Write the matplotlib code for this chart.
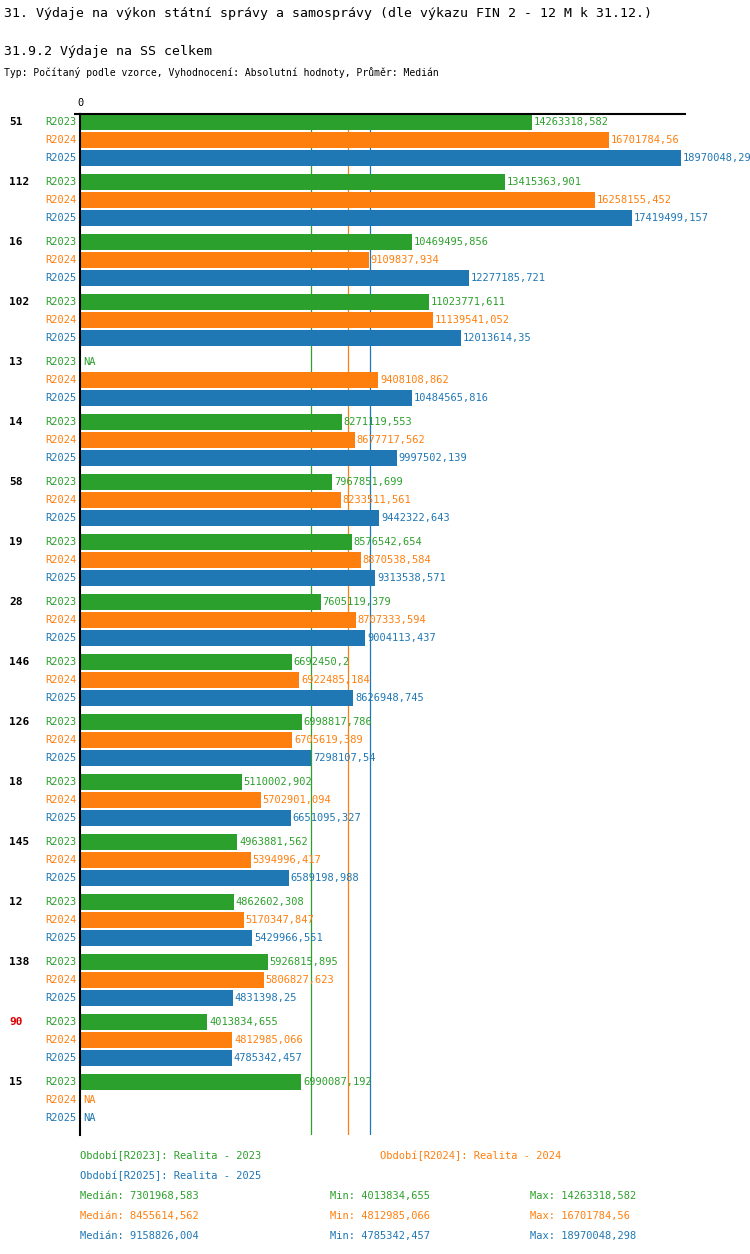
import matplotlib
matplotlib.use("Agg")
import matplotlib.pyplot as plt
import numpy as np

plt.rcParams['font.family'] = ['DejaVu Sans Mono']

# ---------------------------------------------------------------- data
groups  = ["51", "112", "16", "102", "13", "14", "58", "19", "28", "146",
           "126", "18", "145", "12", "138", "90", "15"]
series  = ["R2023", "R2024", "R2025"]
colors  = ["#2ca02c", "#ff7f0e", "#1f77b4"]

r2023 = [14263318.582, 13415363.901, 10469495.856, 11023771.611, None, 8271119.553,
         7967851.699, 8576542.654, 7605119.379, 6692450.2, 6998817.786, 5110002.902,
         4963881.562, 4862602.308, 5926815.895, 4013834.655, 6990087.192]
r2024 = [16701784.56, 16258155.452, 9109837.934, 11139541.052, 9408108.862, 8677717.562,
         8233511.561, 8870538.584, 8707333.594, 6922485.184, 6705619.389, 5702901.094,
         5394996.417, 5170347.847, 5806827.623, 4812985.066, None]
r2025 = [18970048.298, 17419499.157, 12277185.721, 12013614.35, 10484565.816, 9997502.139,
         9442322.643, 9313538.571, 9004113.437, 8626948.745, 7298107.54, 6651095.327,
         6589198.988, 5429966.551, 4831398.25, 4785342.457, None]
values  = [r2023, r2024, r2025]

medians = [7301968.583, 8455614.562, 9158826.004]
med_txt = ["7301968,583", "8455614,562", "9158826,004"]
min_txt = ["4013834,655", "4812985,066", "4785342,457"]
max_txt = ["14263318,582", "16701784,56", "18970048,298"]
period  = ["Realita - 2023", "Realita - 2024", "Realita - 2025"]
highlight = "90"

# ---------------------------------------------------------------- figure
W, H = 750, 1254
fig = plt.figure(figsize=(W / 100, H / 100), dpi=100)
ax = fig.add_axes([80 / W, 1 - 1135 / H, 605 / W, (1135 - 114) / H])
xmax = 18970048.298 * 605 / 601
ax.set_xlim(0, xmax)
ax.set_ylim(1013, -8)
for s in ["right", "bottom"]:
    ax.spines[s].set_visible(False)
ax.spines["left"].set_linewidth(1.5)
ax.spines["top"].set_linewidth(1.5)
ax.set_xticks([])
ax.set_yticks([])

def fmt(v):
    return str(v).replace(".", ",")

for g, name in enumerate(groups):
    for k in range(3):
        y = g * 60 + k * 18
        v = values[k][g]
        if v is None:
            ax.text(xmax * 0.005, y, "NA", color=colors[k], va="center", fontsize=7.5)
        else:
            ax.barh(y, v, height=16, color=colors[k])
            ax.text(v + xmax * 0.003, y, fmt(v), color=colors[k], va="center",
                    fontsize=7.5, clip_on=False)
        fig.text(77 / W, 1 - (122 + y) / H, series[k], color=colors[k],
                 ha="right", va="center", fontsize=7.5)
    fig.text(9 / W, 1 - (122 + g * 60) / H, name, ha="left", va="center",
             fontsize=8, fontweight="bold",
             color="#dd0000" if name == highlight else "black")

for k in range(3):
    ax.axvline(medians[k], color=colors[k], lw=0.9, zorder=0.5)

ax.plot([-xmax * 0.008, 0], [-8, -8], color="black", lw=1.5, clip_on=False)
fig.text(80 / W, 1 - 103 / H, "0", ha="center", va="center", fontsize=7.5)

# ---------------------------------------------------------------- titles
fig.text(4 / W, 1 - 14 / H, "31. Výdaje na výkon státní správy a samosprávy (dle výkazu FIN 2 - 12 M k 31.12.)",
         fontsize=9.5, va="center")
fig.text(4 / W, 1 - 52 / H, "31.9.2 Výdaje na SS celkem", fontsize=9.5, va="center")
fig.text(4 / W, 1 - 73 / H, "Typ: Počítaný podle vzorce, Vyhodnocení: Absolutní hodnoty, Průměr: Medián",
         fontsize=7, va="center")

# ---------------------------------------------------------------- legend
fig.text(80 / W, 1 - 1156 / H, f"Období[{series[0]}]: {period[0]}", color=colors[0], fontsize=7.5, va="center")
fig.text(380 / W, 1 - 1156 / H, f"Období[{series[1]}]: {period[1]}", color=colors[1], fontsize=7.5, va="center")
fig.text(80 / W, 1 - 1176 / H, f"Období[{series[2]}]: {period[2]}", color=colors[2], fontsize=7.5, va="center")
for k in range(3):
    yy = 1 - (1196 + 20 * k) / H
    fig.text(80 / W, yy, f"Medián: {med_txt[k]}", color=colors[k], fontsize=7.5, va="center")
    fig.text(330 / W, yy, f"Min: {min_txt[k]}", color=colors[k], fontsize=7.5, va="center")
    fig.text(530 / W, yy, f"Max: {max_txt[k]}", color=colors[k], fontsize=7.5, va="center")

fig.savefig("out.png", dpi=100)
